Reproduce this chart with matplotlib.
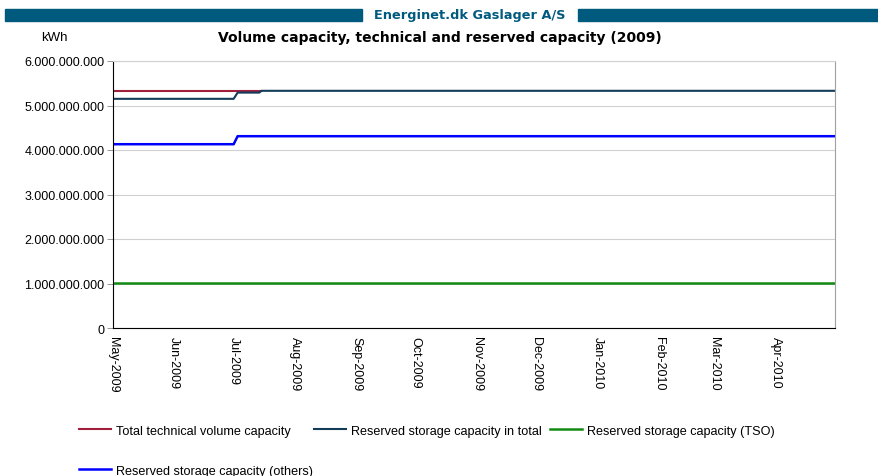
import numpy as np
import matplotlib.pyplot as plt
import matplotlib.dates as mdates
from matplotlib.ticker import FuncFormatter
from datetime import datetime

plt.rcParams['font.family'] = ['Liberation Sans', 'DejaVu Sans']

# data (kWh), step points
tech_dates = [datetime(2009, 5, 1), datetime(2009, 7, 15)]
tech_vals = [5.33e9, 5.33e9]

total_dates = [datetime(2009, 5, 1), datetime(2009, 7, 1), datetime(2009, 7, 3),
               datetime(2009, 7, 14), datetime(2009, 7, 15), datetime(2010, 5, 1)]
total_vals = [5.15e9, 5.15e9, 5.29e9, 5.29e9, 5.33e9, 5.33e9]

tso_dates = [datetime(2009, 5, 1), datetime(2010, 5, 1)]
tso_vals = [1.02e9, 1.02e9]

others_dates = [datetime(2009, 5, 1), datetime(2009, 7, 1), datetime(2009, 7, 3), datetime(2010, 5, 1)]
others_vals = [4.13e9, 4.13e9, 4.31e9, 4.31e9]

month_ticks = [datetime(2009, m, 1) for m in range(5, 13)] + [datetime(2010, m, 1) for m in range(1, 5)]

fig = plt.figure(figsize=(8.79, 4.77), dpi=100)

# header band
band = '#005a7e'
fig.patches.append(plt.Rectangle((5 / 879, 1 - 22 / 477), (362 - 5) / 879, 12 / 477,
                                 transform=fig.transFigure, color=band))
fig.patches.append(plt.Rectangle((578 / 879, 1 - 22 / 477), (879 - 578) / 879, 12 / 477,
                                 transform=fig.transFigure, color=band))
fig.text(470 / 879, 1 - 16 / 477, 'Energinet.dk Gaslager A/S', color=band, fontsize=9.3,
         fontweight='bold', ha='center', va='center', family='DejaVu Sans')
fig.text(440 / 879, 1 - 38 / 477, 'Volume capacity, technical and reserved capacity (2009)',
         fontsize=10, fontweight='bold', ha='center', va='center', family='DejaVu Sans')
fig.text(41 / 879, 1 - 38 / 477, 'kWh', fontsize=9.5, ha='left', va='center')

ax = fig.add_axes([113 / 879, 1 - 329 / 477, (835 - 113) / 879, (329 - 62) / 477])

l1, = ax.plot(tech_dates, tech_vals, color='#a0203c', lw=1.5, label='Total technical volume capacity')
l2, = ax.plot(total_dates, total_vals, color='#123c5a', lw=1.5, label='Reserved storage capacity in total')
l3, = ax.plot(tso_dates, tso_vals, color='#138a13', lw=1.8, label='Reserved storage capacity (TSO)')
l4, = ax.plot(others_dates, others_vals, color='#0000ff', lw=1.8, label='Reserved storage capacity (others)')

ax.set_xlim(datetime(2009, 5, 1), datetime(2010, 5, 1))
ax.set_ylim(0, 6e9)
ax.set_yticks(np.arange(0, 6.01e9, 1e9))
ax.yaxis.set_major_formatter(FuncFormatter(lambda v, p: f'{int(v):,}'.replace(',', '.')))
ax.set_xticks(month_ticks)
ax.xaxis.set_major_formatter(mdates.DateFormatter('%b-%Y'))
ax.tick_params(axis='x', length=0, labelsize=9, labelrotation=270, pad=6)
ax.tick_params(axis='y', length=4, width=0.6, labelsize=9, color='#888888', pad=2)
for lbl in ax.get_xticklabels():
    lbl.set_va('top')
    lbl.set_ha('center')
ax.grid(axis='y', color='#d0d0d0', lw=0.8)
ax.set_axisbelow(True)
ax.spines['left'].set_color('black')
ax.spines['bottom'].set_color('black')
ax.spines['top'].set_color('#d0d0d0')
ax.spines['right'].set_color('#a0a0a0')

# legend, one entry each so they sit where the reference has them
leg_pos = [(l1, 76, 423), (l2, 311, 423), (l3, 547, 423), (l4, 76, 463)]
for h, x, y in leg_pos:
    fig.legend(handles=[h], loc='upper left', bbox_to_anchor=(x / 879, 1 - y / 477),
               frameon=False, fontsize=9.1, handlelength=2.6, handletextpad=0.4,
               borderpad=0.2, borderaxespad=0)

fig.savefig('out.png', dpi=100)
